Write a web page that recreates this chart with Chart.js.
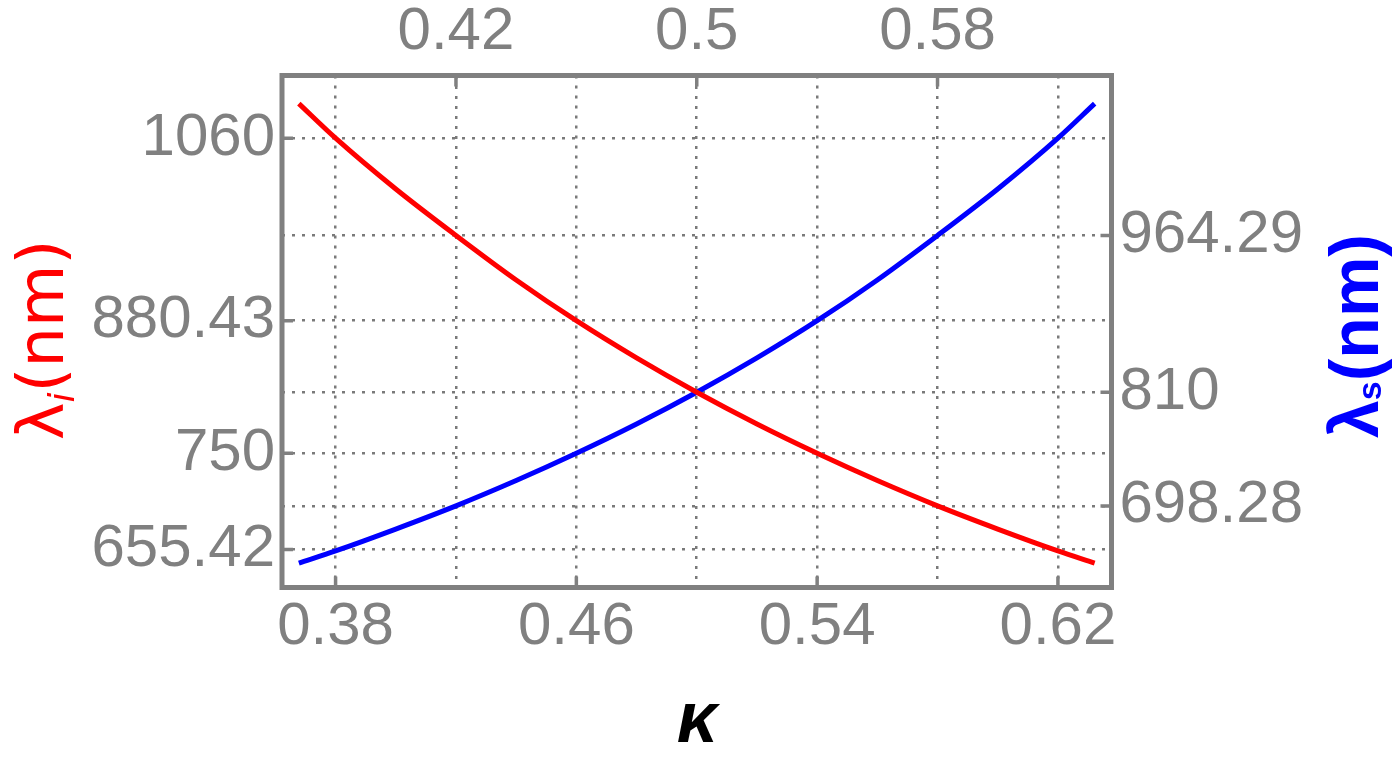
<!DOCTYPE html>
<html>
<head>
<meta charset="utf-8">
<script src="https://cdn.jsdelivr.net/npm/chart.js@4.4.0/dist/chart.umd.min.js"></script>
<style>
  html, body { margin: 0; padding: 0; background: #fff; }
  #wrap { width: 1400px; height: 758px; }
</style>
</head>
<body>
<div id="wrap"><canvas id="lambdaChart" width="1400" height="758"></canvas></div>
<script>
// values
const kappa   = [0.3678, 0.38, 0.40, 0.42, 0.44, 0.46, 0.48, 0.50, 0.52, 0.54, 0.56, 0.58, 0.60, 0.62, 0.6322];
const lambdaI = [1094, 1060, 1010, 964.3, 920.5, 880.4, 843.8, 810, 778.8, 750, 723.2, 698.3, 675.5, 654, 642];
const lambdaS = [642, 654, 675.5, 698.3, 723.2, 750, 778.8, 810, 843.8, 880.4, 920.5, 964.3, 1010, 1060, 1094];

const bottomTicks = ['0.38', '0.46', '0.54', '0.62'];
const topTicks    = ['0.42', '0.5', '0.58'];
const leftTicks   = ['655.42', '750', '880.43', '1060'];
const rightTicks  = ['698.28', '810', '964.29'];

const xMin = 0.3622, xMax = 0.6378;
const yMin = 618.0, yMax = 1121.6;

const GRAY = '#808080';
const FONT = '"Liberation Sans", Arial, sans-serif';
const TITLE_FONT = '"DejaVu Sans", sans-serif';

function toNums(list) { return list.map(Number); }

function fixedTicks(list) {
    return function(scale) {
        scale.ticks = toNums(list).map(v => ({ value: v }));
    };
}

function tickLabel(list) {
    const vals = toNums(list);
    return function(value) {
        const i = vals.indexOf(value);
        return i >= 0 ? list[i] : '';
    };
}

function axis(position, list, min, max, size, pad) {
    const horizontal = position === 'top' || position === 'bottom';
    return {
        type: 'linear',
        position: position,
        min: min,
        max: max,
        afterBuildTicks: fixedTicks(list),
        afterFit: function(scale) {
            if (horizontal) scale.height = size; else scale.width = size;
        },
        grid: {
            drawTicks: false,
            color: '#7a7a7a',
            lineWidth: 2.5
        },
        border: { display: false, dash: [3, 7] },
        ticks: {
            autoSkip: false,
            maxRotation: 0,
            padding: pad,
            color: GRAY,
            font: { family: FONT, size: 60 },
            callback: tickLabel(list)
        }
    };
}

// rotated title made of several pieces (for the subscripts), centred on (x, y)
function drawTitle(ctx, x, y, parts, color) {
    ctx.save();
    ctx.translate(x, y);
    ctx.rotate(-Math.PI / 2);
    ctx.fillStyle = color;
    ctx.textBaseline = 'alphabetic';
    ctx.textAlign = 'left';
    let total = 0;
    parts.forEach(p => { ctx.font = p.font; total += ctx.measureText(p.text).width; });
    let cx = -total / 2;
    parts.forEach(p => {
        ctx.font = p.font;
        ctx.fillText(p.text, cx, p.dy || 0);
        cx += ctx.measureText(p.text).width;
    });
    ctx.restore();
}

const framePlugin = {
    id: 'frame',
    afterDraw(chart) {
        const ctx = chart.ctx;
        const a = chart.chartArea;
        const s = chart.scales;
        ctx.save();
        ctx.strokeStyle = GRAY;
        ctx.lineWidth = 3.5;
        ctx.beginPath();
        toNums(bottomTicks).forEach(v => {
            const px = s.x.getPixelForValue(v);
            ctx.moveTo(px, a.bottom); ctx.lineTo(px, a.bottom - 11);
        });
        toNums(topTicks).forEach(v => {
            const px = s.x2.getPixelForValue(v);
            ctx.moveTo(px, a.top); ctx.lineTo(px, a.top + 11);
        });
        toNums(leftTicks).forEach(v => {
            const py = s.y.getPixelForValue(v);
            ctx.moveTo(a.left, py); ctx.lineTo(a.left + 11, py);
        });
        toNums(rightTicks).forEach(v => {
            const py = s.y2.getPixelForValue(v);
            ctx.moveTo(a.right, py); ctx.lineTo(a.right - 11, py);
        });
        ctx.stroke();
        ctx.lineWidth = 5;
        ctx.strokeRect(a.left, a.top, a.right - a.left, a.bottom - a.top);

        drawTitle(ctx, 63, 340, [
            { text: 'λ', font: '64px ' + TITLE_FONT },
            { text: 'i', font: 'italic 36px ' + TITLE_FONT, dy: 11 },
            { text: '(nm)', font: '64px ' + TITLE_FONT }
        ], '#ff0000');
        drawTitle(ctx, 1378, 336, [
            { text: 'λ', font: 'bold 68px ' + FONT },
            { text: 's', font: 'bold 34px ' + FONT, dy: 3 },
            { text: '(nm)', font: 'bold 68px ' + FONT }
        ], '#0000ff');

        ctx.fillStyle = '#000';
        ctx.font = 'bold italic 72px ' + FONT;
        ctx.textAlign = 'center';
        ctx.textBaseline = 'alphabetic';
        ctx.fillText('κ', 697, 742);
        ctx.restore();
    }
};

const ctx = document.getElementById('lambdaChart').getContext('2d');

const chart = new Chart(ctx, {
    type: 'line',
    data: {
        datasets: [{
            label: 'λi',
            data: kappa.map((k, i) => ({ x: k, y: lambdaI[i] })),
            borderColor: '#ff0000',
            borderWidth: 5,
            pointRadius: 0,
            cubicInterpolationMode: 'monotone',
            xAxisID: 'x',
            yAxisID: 'y'
        }, {
            label: 'λs',
            data: kappa.map((k, i) => ({ x: k, y: lambdaS[i] })),
            borderColor: '#0000ff',
            borderWidth: 5,
            pointRadius: 0,
            cubicInterpolationMode: 'monotone',
            xAxisID: 'x',
            yAxisID: 'y2'
        }]
    },
    options: {
        responsive: false,
        animation: false,
        layout: { padding: 0 },
        plugins: {
            legend: { display: false },
            tooltip: { enabled: false }
        },
        scales: {
            x: axis('bottom', bottomTicks, xMin, xMax, 170.5, 4),
            x2: axis('top', topTicks, xMin, xMax, 75.5, 7),
            y: axis('left', leftTicks, yMin, yMax, 282, 7),
            y2: axis('right', rightTicks, yMin, yMax, 288.5, 8)
        }
    },
    plugins: [framePlugin]
});
</script>
</body>
</html>
